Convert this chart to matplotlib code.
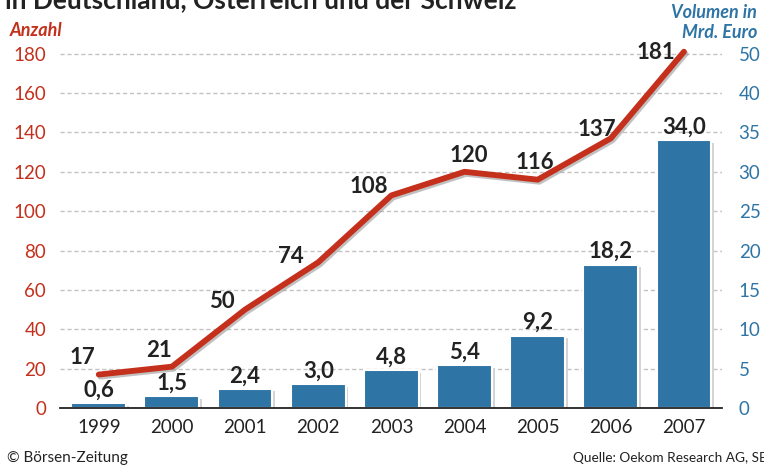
import numpy as np
import matplotlib
matplotlib.use("Agg")
import matplotlib.pyplot as plt
import matplotlib.patheffects as pe

plt.rcParams['font.family'] = ['Lato', 'DejaVu Sans']

years = ['1999', '2000', '2001', '2002', '2003', '2004', '2005', '2006', '2007']
anzahl = [17, 21, 50, 74, 108, 120, 116, 137, 181]
volumen = [0.6, 1.5, 2.4, 3.0, 4.8, 5.4, 9.2, 18.2, 34.0]
volumen_labels = ['0,6', '1,5', '2,4', '3,0', '4,8', '5,4', '9,2', '18,2', '34,0']
left_ticks = [0, 20, 40, 60, 80, 100, 120, 140, 160, 180]
right_tick_labels = ['0', '5', '10', '15', '20', '25', '30', '35', '40', '50']

# offsets (points) of the count labels relative to the line points
line_label_offsets = [(-12, 5), (-9, 4), (-17, -2), (-20, -3), (-16, -1), (3, 4), (-2, 5), (-10, -1), (-20, -8)]

RED = '#c4301c'
BLUE = '#2e75a6'

fig = plt.figure(figsize=(7.64, 4.66), dpi=100)
W, H = 764, 466
ax = fig.add_axes([60 / W, (H - 408) / H, (722 - 60) / W, (408 - 34) / H])

x = np.arange(len(years))
ax.set_xlim(-0.53, 8.52)
ax.set_ylim(0, 190)

# bars are on the right scale (1 unit = 4 left units)
bar_h = [v * 4 for v in volumen]
ax.bar(x + 0.035, bar_h, width=0.75, bottom=-1.2, color='#d4d4d4', zorder=2)
ax.bar(x, bar_h, width=0.75, color=BLUE, edgecolor='white', linewidth=1.5, zorder=3)

for xi, h, lab in zip(x, bar_h, volumen_labels):
    ax.annotate(lab, (xi, h), xytext=(0, 2), textcoords='offset points',
                ha='center', va='bottom', fontsize=16, fontweight='bold', color='#222222', zorder=6)

ax.plot(x, anzahl, color=RED, linewidth=4.2, solid_capstyle='round', solid_joinstyle='round', zorder=5,
        clip_on=False,
        path_effects=[pe.SimpleLineShadow(offset=(1.2, -1.5), shadow_color='#999999', alpha=0.6), pe.Normal()])

for xi, v, off in zip(x, anzahl, line_label_offsets):
    ax.annotate(str(v), (xi, v), xytext=off, textcoords='offset points',
                ha='center', va='bottom', fontsize=16, fontweight='bold', color='#222222', zorder=6)

for t in left_ticks[1:]:
    ax.axhline(t, color='#c2c2c2', linestyle=(0, (3, 2)), linewidth=1, zorder=1)

for s in ['top', 'right', 'left']:
    ax.spines[s].set_visible(False)
ax.spines['bottom'].set_color('#222222')
ax.spines['bottom'].set_linewidth(1.3)
ax.spines['bottom'].set_zorder(4)

ax.set_xticks(x)
ax.set_xticklabels(years, fontsize=13.5, color='#222222')
ax.set_yticks(left_ticks)
ax.set_yticklabels([str(t) for t in left_ticks], fontsize=13.5, color=RED)
ax.tick_params(axis='both', length=0)
ax.tick_params(axis='x', pad=8)
ax.tick_params(axis='y', pad=10)

ax2 = ax.twinx()
ax2.set_ylim(ax.get_ylim())
ax2.set_yticks(left_ticks)
ax2.set_yticklabels(right_tick_labels, fontsize=13.5, color=BLUE)
ax2.tick_params(axis='y', length=0, pad=12)
for s in ax2.spines.values():
    s.set_visible(False)

fig.text(10 / W, 1 - 30 / H, 'Anzahl', color=RED, fontsize=13, fontweight='bold', style='italic',
         ha='left', va='center')
fig.text(757 / W, 1 - 12 / H, 'Volumen in', color=BLUE, fontsize=13, fontweight='bold', style='italic',
         ha='right', va='center')
fig.text(757 / W, 1 - 32 / H, 'Mrd. Euro', color=BLUE, fontsize=13, fontweight='bold', style='italic',
         ha='right', va='center')

fig.text(5 / W, 1 - 8 / H, 'in Deutschland, Österreich und der Schweiz', fontsize=19, fontweight='bold',
         color='#222222', ha='left', va='baseline')

fig.text(7 / W, 1 - 458 / H, '© Börsen-Zeitung', fontsize=11, color='#222222', ha='left', va='center')
fig.text(573 / W, 1 - 458 / H, 'Quelle: Oekom Research AG, SBI', fontsize=9.8, color='#222222',
         ha='left', va='center')

fig.savefig('out.png', dpi=100)
